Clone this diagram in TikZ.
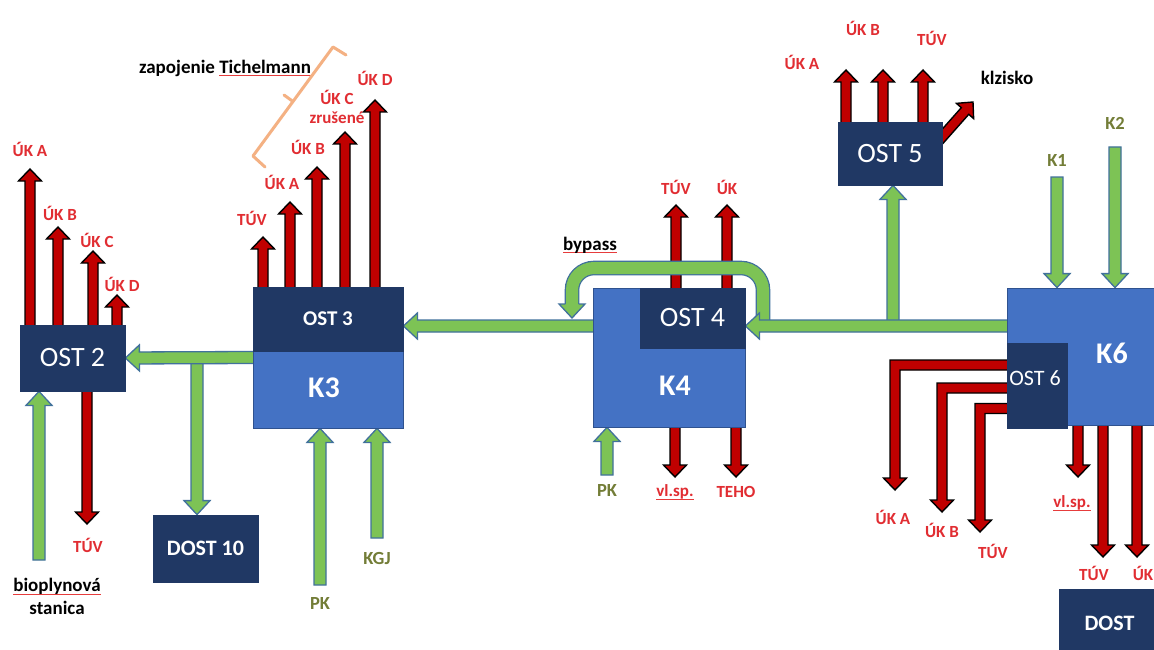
\documentclass[tikz,border=0pt]{standalone}
\usepackage{fontspec}
\setmainfont{Carlito}
\usetikzlibrary{calc}
\pgfdeclarelayer{back}
\pgfdeclarelayer{bg}
\pgfsetlayers{bg,back,main}
\definecolor{navy}{RGB}{32,56,100}
\definecolor{kblue}{RGB}{68,114,196}
\definecolor{kline}{RGB}{47,82,143}
\definecolor{arrred}{RGB}{192,0,0}
\definecolor{gfillc}{RGB}{125,195,85}
\definecolor{glinec}{RGB}{65,113,156}
\definecolor{lblred}{RGB}{225,45,50}
\definecolor{olivelbl}{RGB}{115,125,55}
\definecolor{brkor}{RGB}{244,177,131}
\definecolor{ulred}{RGB}{230,60,60}
% red spell-check underline
\newcommand\splul[1]{\setbox0\hbox{#1}\rlap{\color{ulred}\rule[-3pt]{\wd0}{0.8pt}}\box0}
% straight block arrow: style, from, to, half shaft, half head, head length, tail extension
\newcommand\blockarr[7]{%
  \path let \p1=(#2), \p2=(#3) in \pgfextra{%
    \pgfmathsetmacro\tmpA{atan2(\y2-\y1,\x2-\x1)}\global\let\bAng\tmpA
    \pgfmathsetmacro\tmpL{10*veclen((\x2-\x1)/10,(\y2-\y1)/10)}\global\let\bLen\tmpL
    \xdef\bX{\x1}\xdef\bY{\y1}};
  \draw[#1, shift={(\bX,\bY)}, rotate=\bAng]
    (-#7,-#4) -- ({\bLen pt-#6},-#4) -- ({\bLen pt-#6},-#5) -- (\bLen pt,0pt)
    -- ({\bLen pt-#6},#5) -- ({\bLen pt-#6},#4) -- (-#7,#4) -- cycle;}
\newcommand\redA[3][0pt]{\blockarr{redarr}{#2}{#3}{5pt}{11.5pt}{12pt}{#1}}
\newcommand\grnA[3][0pt]{\blockarr{grnarr}{#2}{#3}{6pt}{13pt}{14pt}{#1}}
% L-shaped red arrow out of OST 6: y of band, x of leg, y of tip
\newcommand\redL[3]{%
  \draw[redarr] (1012,{#1-5}) -- ({#2-5},{#1-5}) -- ({#2-5},{#3-12}) -- ({#2-11.5},{#3-12})
    -- (#2,#3) -- ({#2+11.5},{#3-12}) -- ({#2+5},{#3-12}) -- ({#2+5},{#1+5})
    -- (1012,{#1+5}) -- cycle;}
\begin{document}
\begin{tikzpicture}[x=1pt,y=-1pt,
  redarr/.style={fill=arrred, draw=black, line width=1.4pt, line join=miter},
  grnarr/.style={fill=gfillc, draw=glinec, line width=1.3pt, line join=miter},
  navybox/.style={fill=navy, draw=navy, line width=0.8pt, inner sep=0pt, text=white},
  kbox/.style={fill=kblue, draw=kline, line width=0.8pt, inner sep=0pt, text=white},
  ostbig/.style={font=\fontsize{28}{30}\selectfont},
  ktext/.style={text=white, inner sep=0pt, font=\bfseries\fontsize{30}{32}\selectfont},
  rlab/.style={text=lblred, inner sep=0pt, align=center, font=\bfseries\fontsize{17}{19}\selectfont},
  blab/.style={text=black, inner sep=0pt, align=center, font=\bfseries\fontsize{19}{23}\selectfont},
  glab/.style={text=olivelbl, inner sep=0pt, font=\bfseries\fontsize{18.5}{20}\selectfont},
  brk/.style={draw=brkor, line width=3pt, line join=round, line cap=round}
]
\useasboundingbox (0,0) rectangle (1154,650);
\begin{pgfonlayer}{bg}
\fill[white] (0,0) rectangle (1154,650);
\end{pgfonlayer}

% ---------- boxes ----------
\node[navybox, ostbig, minimum width=105pt, minimum height=66pt] (ost2) at (72.5,358) {OST 2};
\node[navybox, minimum width=105pt, minimum height=67pt, font=\bfseries\fontsize{22}{24}\selectfont] (dost10) at (205.5,548.5) {DOST 10};
\node[kbox, minimum width=150pt, minimum height=141pt] (k3) at (328,357.5) {};
\node[navybox, minimum width=150pt, minimum height=64pt, font=\bfseries\fontsize{21}{23}\selectfont] (ost3) at (328,319) {OST 3};
\node[ktext] (k3t) at (324,388) {K3};
\node[kbox, minimum width=152pt, minimum height=139pt] (k4) at (669,357.5) {};
\node[navybox, ostbig, minimum width=105pt, minimum height=60pt] (ost4) at (692.5,318) {OST 4};
\node[ktext] (k4t) at (675,386) {K4};
\node[navybox, ostbig, minimum width=104pt, minimum height=63pt] (ost5) at (890,153.5) {OST 5};
\node[kbox, minimum width=153pt, minimum height=137pt] (k6) at (1083.5,356.5) {};
\node[navybox, minimum width=60pt, minimum height=85pt] (ost6) at (1037,385.5) {};
\node[text=white, inner sep=0pt, font=\fontsize{22}{24}\selectfont] (ost6t) at (1035,378) {OST 6};
\node[ktext] (k6t) at (1112,353) {K6};
\node[navybox, minimum width=101pt, minimum height=71pt, font=\bfseries\fontsize{22}{24}\selectfont] (dost) at (1109.5,624.5) {\raisebox{3pt}{DOST}};

% ---------- labels ----------
\node[rlab] (l2a) at (30,149) {ÚK A};
\node[rlab] (l2b) at (60,213) {ÚK B};
\node[rlab] (l2c) at (97,240) {ÚK C};
\node[rlab] (l2d) at (122,284) {ÚK D};
\node[rlab] (l2t) at (88,545) {TÚV};
\node[rlab] (l3t) at (252,218) {TÚV};
\node[rlab] (l3a) at (282,182) {ÚK A};
\node[rlab] (l3b) at (308,147) {ÚK B};
\node[rlab] (l3c) at (337,106.5) {ÚK C\\zrušené};
\node[rlab] (l3d) at (375,78) {ÚK D};
\node[rlab] (l4t) at (676,187) {TÚV};
\node[rlab] (l4u) at (727,187) {ÚK};
\node[rlab] (l4v) at (675,492) {\splul{vl.sp.}};
\node[rlab] (l4h) at (736,492) {TEHO};
\node[rlab] (l5a) at (802,62) {ÚK A};
\node[rlab] (l5b) at (863,28) {ÚK B};
\node[rlab] (l5t) at (932,38) {TÚV};
\node[rlab] (l6a) at (893,517) {ÚK A};
\node[rlab] (l6b) at (942,530) {ÚK B};
\node[rlab] (l6t) at (993,551) {TÚV};
\node[rlab] (l6v) at (1072,503) {\splul{vl.sp.}};
\node[rlab] (l6w) at (1094,573) {TÚV};
\node[rlab] (l6u) at (1143,573) {ÚK};
\node[blab] (ltich) at (225,68) {zapojenie \splul{Tichelmann}};
\node[blab] (lbio) at (57,596.5) {\splul{bioplynová}\\stanica};
\node[blab] (lbyp) at (590,245) {\splul{bypass}};
\node[blab] (lklz) at (1007,78) {klzisko};
\node[glab] (lpk1) at (320,603) {PK};
\node[glab] (lkgj) at (377,558) {KGJ};
\node[glab] (lpk2) at (607,490) {PK};
\node[glab] (lk1) at (1057,160) {K1};
\node[glab] (lk2) at (1115,123) {K2};

% ---------- free ends ----------
\coordinate (o2a) at (30,169);  \coordinate (o2b) at (58,227);
\coordinate (o2c) at (93,251);  \coordinate (o2d) at (117,295);
\coordinate (o2t) at (87,524);
\coordinate (o3t) at (263,237); \coordinate (o3a) at (290,202);
\coordinate (o3b) at (317,167); \coordinate (o3c) at (345,132);
\coordinate (o3d) at (375,100);
\coordinate (o4t) at (676,205); \coordinate (o4u) at (727,205);
\coordinate (o4v) at (675,477); \coordinate (o4h) at (736,477);
\coordinate (o5a) at (846,70);  \coordinate (o5b) at (883,70);
\coordinate (o5t) at (923,70);
\coordinate (o5s) at (934,146); \coordinate (o5k) at (973,102);
\coordinate (o6v) at (1078,477); \coordinate (o6w) at (1103,557);
\coordinate (o6u) at (1137,557);
\coordinate (bio) at (39,560);  \coordinate (pk1) at (320,585);
\coordinate (kgj) at (377,538); \coordinate (pk2) at (607,475);
\coordinate (kk1) at (1057,177); \coordinate (kk2) at (1115,147);
\coordinate (br2) at (197,358); \coordinate (br5) at (893,326);
\coordinate (bp0) at (763,326); \coordinate (bp1) at (763,268);
\coordinate (bp2) at (572,268); \coordinate (bp3) at (572,304);
\coordinate (bp4) at (572,318);

\begin{pgfonlayer}{back}
% red arrows
\redA[4pt]{30,0 |- ost2.north}{o2a}
\redA[4pt]{58,0 |- ost2.north}{o2b}
\redA[4pt]{93,0 |- ost2.north}{o2c}
\redA[4pt]{117,0 |- ost2.north}{o2d}
\redA[4pt]{87,0 |- ost2.south}{o2t}
\redA[4pt]{263,0 |- k3.north}{o3t}
\redA[4pt]{290,0 |- k3.north}{o3a}
\redA[4pt]{317,0 |- k3.north}{o3b}
\redA[4pt]{345,0 |- k3.north}{o3c}
\redA[4pt]{375,0 |- k3.north}{o3d}
\redA[4pt]{676,0 |- k4.north}{o4t}
\redA[4pt]{727,0 |- k4.north}{o4u}
\redA[4pt]{675,0 |- k4.south}{o4v}
\redA[4pt]{736,0 |- k4.south}{o4h}
\redA[4pt]{846,0 |- ost5.north}{o5a}
\redA[4pt]{883,0 |- ost5.north}{o5b}
\redA[4pt]{923,0 |- ost5.north}{o5t}
\redA{o5s}{o5k}
\redA[4pt]{1078,0 |- k6.south}{o6v}
\redA[4pt]{1103,0 |- k6.south}{o6w}
\redA[4pt]{1137,0 |- k6.south}{o6u}
\redL{365}{895}{490}
\redL{388}{942}{512}
\redL{408.5}{980}{532}
% green arrows
\grnA{bio}{39,0 |- ost2.south}
\grnA{br2}{197,0 |- dost10.north}
\grnA[4pt]{k3.west}{ost2.east}
\grnA{pk1}{320,0 |- k3.south}
\grnA{kgj}{377,0 |- k3.south}
\grnA[4pt]{k4.west |- 0,326}{k3.east |- 0,326}
\grnA{pk2}{607,0 |- k4.south}
\grnA{br5}{893,0 |- ost5.south}
\grnA{kk1}{1057,0 |- k6.north}
\grnA{kk2}{1115,0 |- k6.north}
% bypass
\draw[draw=glinec, line width=14.6pt, rounded corners=22pt] (bp0) -- (bp1) -- (bp2) -- (bp3);
\draw[draw=gfillc, line width=12pt, rounded corners=22pt] (bp0) -- (bp1) -- (bp2) -- (bp3);
\fill[gfillc] ([xshift=-13pt]bp3) -- (bp4) -- ([xshift=13pt]bp3) -- cycle;
\draw[draw=glinec, line width=1.3pt, line join=miter] ([xshift=-6.6pt]bp3) -- ([xshift=-13pt]bp3) -- (bp4) -- ([xshift=13pt]bp3) -- ([xshift=6.6pt]bp3);
\grnA[4pt]{k6.west |- 0,326}{ost4.east |- 0,326}
\end{pgfonlayer}

% Tichelmann bracket
\coordinate (b1) at (265,167); \coordinate (b2) at (253,156);
\coordinate (bm) at (293,101.5); \coordinate (bt) at (284,95);
\coordinate (b3) at (333,47); \coordinate (b4) at (346,55);
\draw[brk] (b1) -- (b2) -- (bm) -- (b3) -- (b4);
\draw[brk] (bm) -- (bt);
\end{tikzpicture}
\end{document}
